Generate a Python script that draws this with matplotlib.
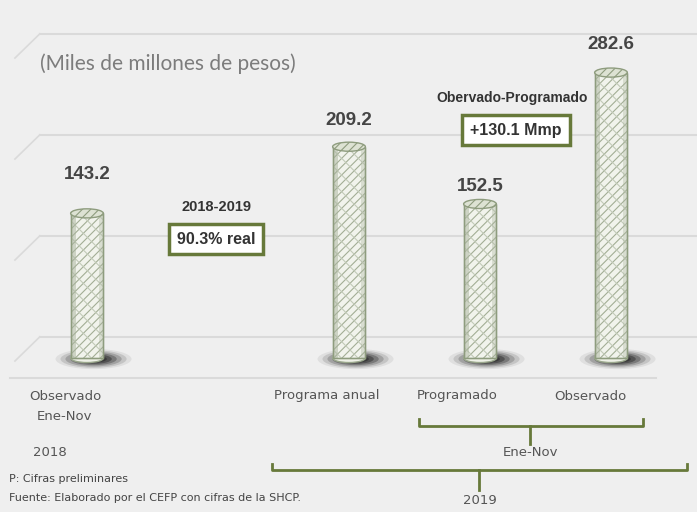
import matplotlib.pyplot as plt
from matplotlib.patches import Ellipse, Rectangle

# data
categories = ["Observado\nEne-Nov", "Programa anual", "Programado", "Observado"]
values = [143.2, 209.2, 152.5, 282.6]
xpos = [0, 2, 3, 4]
value_labels = ["143.2", "209.2", "152.5", "282.6"]

W, H = 697, 512
fig = plt.figure(figsize=(W / 100, H / 100), dpi=100)
fig.patch.set_facecolor("#efefef")
plt.rcParams["hatch.linewidth"] = 0.8

# axes spanning the whole figure; 1 x-unit ~131 px, 1 y-unit ~1.01 px
ax = fig.add_axes([0, 0, 1, 1])
ax.set_xlim(-87 / 131, (W - 87) / 131)
ax.set_ylim(-(H - 358) / 1.01, 358 / 1.01)
ax.axis("off")

def px(x, y):
    return x / W, 1 - y / H

# back wall grid lines (3D offset)
wall_offset = 21
grid_col = "#dadada"
for k in range(4):
    g = wall_offset + 100 * k
    ax.plot([-0.36, 4.66], [g, g], color=grid_col, lw=1.5, zorder=1)
    ax.plot([-0.36, -0.55], [g, g - 24], color=grid_col, lw=1.2, zorder=1)
ax.plot([-0.59, 4.34], [-20, -20], color=grid_col, lw=1.5, zorder=1)

bw = 0.25
for x, v in zip(xpos, values):
    # shadow on the floor
    for i, a in enumerate([0.08, 0.14, 0.22, 0.32, 0.45, 0.55]):
        s = 1 - i * 0.13
        ax.add_patch(Ellipse((x + 0.05, -1), 0.58 * s, 20 * s, color="#262626",
                             alpha=a, lw=0, zorder=2))
    ax.bar(x, v, width=bw, color="#f1f3ec", edgecolor="#a3ae95", hatch="////",
           lw=1, zorder=3)
    ax.bar(x, v, width=bw, color="none", edgecolor="#c2cab8", hatch="\\\\",
           lw=0, zorder=3.5)
    ax.add_patch(Rectangle((x - bw / 2, 0), bw * 0.16, v, color="#aab49e",
                           alpha=0.5, lw=0, zorder=4))
    ax.add_patch(Rectangle((x + bw / 2 - bw * 0.12, 0), bw * 0.12, v,
                           color="#aab49e", alpha=0.35, lw=0, zorder=4))
    ax.bar(x, v, width=bw, color="none", edgecolor="#8e9c7e", lw=1, zorder=4.5)
    ax.add_patch(Ellipse((x, v), bw, 9, facecolor="#dde2d3", edgecolor="#8e9c7e",
                         lw=1, hatch="////", zorder=5))
    ax.add_patch(Ellipse((x, 0), bw, 9, facecolor="#eef1e7", edgecolor="#9aa78c",
                         lw=1, zorder=2.5))

label_offsets = [38, 26, 17, 28]
for x, v, lab, off in zip(xpos, values, value_labels, label_offsets):
    ax.text(x, v + off, lab, ha="center", va="center", fontsize=13.5,
            fontweight="bold", color="#454545", family="Liberation Sans")

fig.text(*px(40, 64), "(Miles de millones de pesos)", fontsize=15, color="#7c7c7c",
         family="Lato", ha="left", va="center")

green = "#67793a"
# annotation boxes
fig.text(*px(217, 207), "2018-2019", fontsize=10.5, fontweight="bold",
         color="#333333", ha="center", va="center", family="Liberation Sans")
fig.text(*px(216, 239), "90.3% real", fontsize=11.5, fontweight="bold",
         color="#333333", ha="center", va="center", family="Liberation Sans",
         bbox=dict(boxstyle="square,pad=0.5", facecolor="white",
                   edgecolor=green, lw=2.5))
fig.text(*px(512, 98), "Obervado-Programado", fontsize=10, fontweight="bold",
         color="#333333", ha="center", va="center", family="Liberation Sans")
fig.text(*px(516, 130), "+130.1 Mmp", fontsize=11.5, fontweight="bold",
         color="#333333", ha="center", va="center", family="Liberation Sans",
         bbox=dict(boxstyle="square,pad=0.5", facecolor="white",
                   edgecolor=green, lw=2.5))

# category labels
lab_kw = dict(fontsize=9.5, color="#555555", family="DejaVu Sans", va="center")
fig.text(*px(65, 396), "Observado", ha="center", **lab_kw)
fig.text(*px(64, 416), "Ene-Nov", ha="center", **lab_kw)
fig.text(*px(327, 396), "Programa anual", ha="center", **lab_kw)
fig.text(*px(457, 396), "Programado", ha="center", **lab_kw)
fig.text(*px(590, 396), "Observado", ha="center", **lab_kw)
fig.text(*px(50, 452), "2018", ha="center", **lab_kw)
fig.text(*px(530, 452), "Ene-Nov", ha="center", **lab_kw)
fig.text(*px(480, 501), "2019", ha="center", **lab_kw)

src_kw = dict(fontsize=8, color="#444444", family="DejaVu Sans", va="center",
              ha="left")
fig.text(*px(9, 479), "P: Cifras preliminares", **src_kw)
fig.text(*px(9, 498), "Fuente: Elaborado por el CEFP con cifras de la SHCP.", **src_kw)

# brackets (figure pixel coords)
def bracket(x0, x1, y, xm, ytick, up):
    xs = [x0, x0, x1, x1]
    ys = [y - up, y, y, y - up]
    fig.lines.append(plt.Line2D([a / W for a in xs], [1 - b / H for b in ys],
                                color=green, lw=2, transform=fig.transFigure))
    fig.lines.append(plt.Line2D([xm / W, xm / W], [1 - y / H, 1 - ytick / H],
                                color=green, lw=2, transform=fig.transFigure))

bracket(419, 643, 426, 530, 444, 7)
bracket(272, 687, 470, 479, 490, 6)

fig.savefig("out.png", dpi=100, facecolor=fig.get_facecolor())
